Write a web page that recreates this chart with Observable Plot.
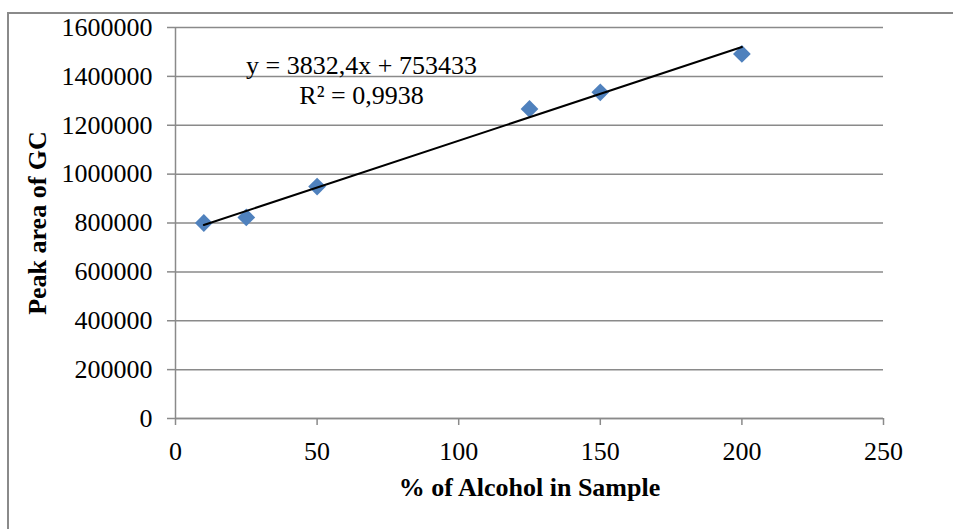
<!DOCTYPE html>
<html><head><meta charset="utf-8">
<script src="https://cdn.jsdelivr.net/npm/d3@7"></script>
<script src="https://cdn.jsdelivr.net/npm/@observablehq/plot@0.6"></script>
<style>
html,body{margin:0;padding:0;background:#fff;overflow:hidden;}
#wrap{position:relative;width:953px;height:529px;overflow:hidden;}
#frame{position:absolute;left:7px;top:12px;width:1000px;height:1000px;border:2px solid #8a8a8a;box-sizing:border-box;pointer-events:none;}
</style></head><body><div id="wrap"><div id="chart"></div><div id="frame"></div></div>
<script>
const alcohol = [10, 25, 50, 125, 150, 200];
const peakArea = [800000, 823000, 949000, 1267000, 1335000, 1492000];
const xTicks = [0, 50, 100, 150, 200, 250];
const yTicks = [0, 200000, 400000, 600000, 800000, 1000000, 1200000, 1400000, 1600000];
const slope = 3832.4;
const intercept = 753433;
const trendX = [10, 200];
const equationLines = ["y = 3832,4x + 753433", "R² = 0,9938"];
const xTitle = "% of Alcohol in Sample";
const yTitle = "Peak area of GC";

const points = alcohol.map((x, i) => ({x, y: peakArea[i]}));
const trend = trendX.map(x => ({x, y: slope * x + intercept}));
const grey = "#8a8a8a";

const chart = Plot.plot({
  width: 953,
  height: 529,
  marginLeft: 175,
  marginRight: 70,
  marginTop: 27,
  marginBottom: 111,
  style: {fontFamily: "'Liberation Serif', 'Times New Roman', serif", fontSize: "26px", color: "#000", background: "#fff"},
  x: {domain: [0, 250]},
  y: {domain: [0, 1600000]},
  marks: [
    Plot.gridY(yTicks, {stroke: grey, strokeOpacity: 1, strokeWidth: 1.5}),
    Plot.ruleX([0], {stroke: grey, strokeWidth: 1.5}),
    Plot.ruleY([0], {stroke: grey, strokeWidth: 1.5}),
    Plot.axisY({ticks: yTicks, tickFormat: d => String(d), tickSize: 8, tickPadding: 15, stroke: grey, strokeWidth: 1.5, strokeOpacity: 1, fontSize: 26, label: null}),
    Plot.axisX({ticks: xTicks, tickFormat: d => String(d), tickSize: 7, tickPadding: 16, stroke: grey, strokeWidth: 1.5, strokeOpacity: 1, fontSize: 26, label: null}),
    Plot.dot(points, {x: "x", y: "y", symbol: "diamond2", r: 8, fill: "#4F81BD", stroke: "none"}),
    Plot.line(trend, {x: "x", y: "y", stroke: "#000", strokeWidth: 2}),
    Plot.text([equationLines.join("\n")], {frameAnchor: "top", dx: -168, dy: 76, lineAnchor: "bottom", lineHeight: 30/26, textAnchor: "middle", fontSize: 26, fill: "#000"}),
    Plot.text([xTitle], {frameAnchor: "bottom", dy: 77, lineAnchor: "bottom", textAnchor: "middle", fontSize: 26, fontWeight: "bold", fill: "#000"}),
    Plot.text([yTitle], {frameAnchor: "left", dx: -138, rotate: -90, textAnchor: "middle", lineAnchor: "middle", fontSize: 26, fontWeight: "bold", fill: "#000"})
  ]
});
document.getElementById("chart").appendChild(chart);
</script>
</body></html>
